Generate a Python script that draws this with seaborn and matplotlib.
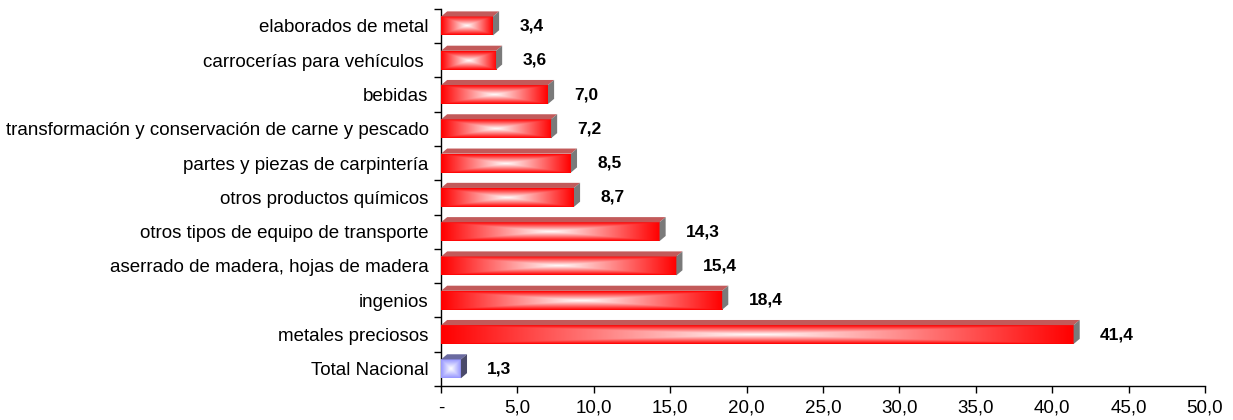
import numpy as np
import pandas as pd
import matplotlib
matplotlib.use("Agg")
import matplotlib.pyplot as plt
from matplotlib.patches import Polygon
from matplotlib.ticker import FixedLocator
import seaborn as sns

categorias = [
    "elaborados de metal",
    "carrocerías para vehículos ",
    "bebidas",
    "transformación y conservación de carne y pescado",
    "partes y piezas de carpintería",
    "otros productos químicos",
    "otros tipos de equipo de transporte",
    "aserrado de madera, hojas de madera",
    "ingenios",
    "metales preciosos",
    "Total Nacional",
]
valores = [3.4, 3.6, 7.0, 7.2, 8.5, 8.7, 14.3, 15.4, 18.4, 41.4, 1.3]
xticks = [0, 5, 10, 15, 20, 25, 30, 35, 40, 45, 50]
xticklabels = ["-", "5,0", "10,0", "15,0", "20,0", "25,0", "30,0", "35,0", "40,0", "45,0", "50,0"]

ROJO = np.array([255, 0, 0]) / 255
AZUL = np.array([150, 150, 255]) / 255
DX, DY = 0.4, 0.15  # profundidad del efecto 3D (unidades de datos)


def gradiente(base, nh=40, nw=200, pot=1.0):
    u = np.abs(np.linspace(-1, 1, nw))[None, :]
    v = np.abs(np.linspace(-1, 1, nh))[:, None]
    d = np.maximum(u, v)
    t = (1 - d) ** pot
    return base[None, None, :] * (1 - t[..., None]) + t[..., None]


df = pd.DataFrame({"cat": categorias, "val": valores})

sns.set_style("white")
plt.rcParams["font.family"] = ["Liberation Sans", "DejaVu Sans"]

fig, ax = plt.subplots(figsize=(12.33, 4.2), dpi=100)
fig.subplots_adjust(left=0.3577, right=0.9773, top=0.979, bottom=0.081)

sns.barplot(data=df, y="cat", x="val", orient="h", width=0.55, ax=ax,
            color="red", edgecolor="none")

for i, p in enumerate(ax.patches):
    x0, y0 = p.get_x(), p.get_y()
    w, h = p.get_width(), p.get_height()
    total = categorias[i] == "Total Nacional"
    base = AZUL if total else ROJO
    p.set_alpha(0)
    # cara frontal
    ax.imshow(gradiente(base), extent=(x0, x0 + w, y0 + h, y0),
              aspect="auto", zorder=3, interpolation="bilinear")
    # cara superior
    ytop = y0
    top = Polygon([(x0, ytop), (x0 + w, ytop), (x0 + w + DX, ytop - DY), (x0 + DX, ytop - DY)],
                  closed=True, facecolor="#6a6aa0" if total else "#c25a5a",
                  edgecolor="none", zorder=3)
    ax.add_patch(top)
    # cara lateral
    side = Polygon([(x0 + w, ytop), (x0 + w + DX, ytop - DY), (x0 + w + DX, y0 + h - DY), (x0 + w, y0 + h)],
                   closed=True, facecolor="#4a4a6a" if total else "#7a7a7a",
                   edgecolor="none", zorder=3)
    ax.add_patch(side)
    ax.annotate(f"{valores[i]:.1f}".replace(".", ","), xy=(x0 + w, i),
                xytext=(19, 0), textcoords="offset points", va="center", ha="left",
                fontsize=12.5, fontweight="bold", color="black")

ax.set_xlim(0, 50)
ax.set_ylim(len(categorias) - 0.5, -0.5)
ax.set_xticks(xticks)
ax.set_xticklabels(xticklabels)
ax.set_xlabel("")
ax.set_ylabel("")
ax.yaxis.set_minor_locator(FixedLocator(np.arange(-0.5, len(categorias), 1)))
ax.tick_params(axis="y", which="major", length=0, pad=9, labelsize=13.5, labelcolor="black")
ax.tick_params(axis="y", which="minor", length=5, width=1, direction="out", left=True, color="black")
ax.tick_params(axis="x", which="major", length=5, width=1, direction="out", bottom=True,
               labelsize=13.5, pad=5, labelcolor="black", color="black")

for s in ["top", "right"]:
    ax.spines[s].set_visible(False)
for s in ["left", "bottom"]:
    ax.spines[s].set_color("black")
    ax.spines[s].set_linewidth(1)

fig.savefig("out.png", dpi=100)
